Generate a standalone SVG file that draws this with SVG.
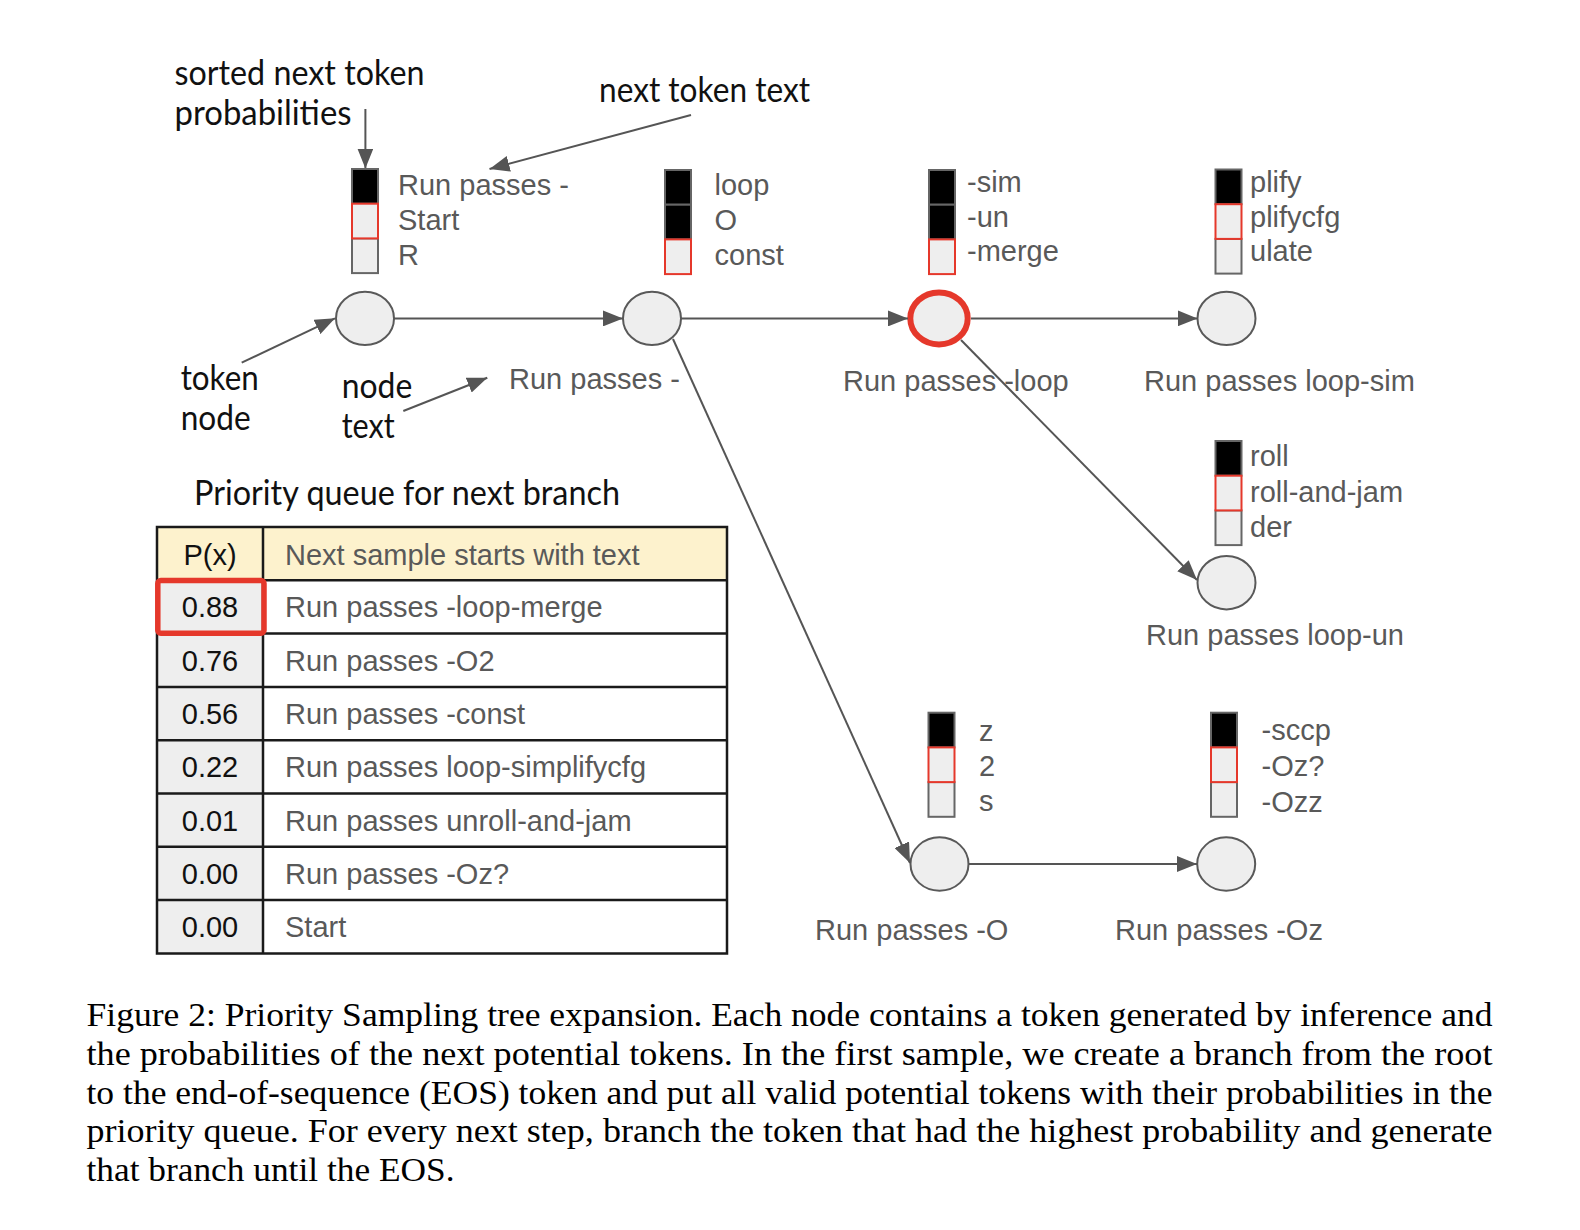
<svg xmlns="http://www.w3.org/2000/svg" width="1580" height="1230" viewBox="0 0 1580 1230">
<defs>
<marker id="ah" viewBox="0 0 20 16" refX="20" refY="8" markerWidth="20" markerHeight="16" markerUnits="userSpaceOnUse" orient="auto">
<path d="M0,0 L20,8 L0,16 z" fill="#555"/>
</marker>
<style>
.node{fill:#eeeeee;stroke:#595959;stroke-width:2}
.sel{fill:#eeeeee;stroke:#e5382b;stroke-width:6}
.blk{fill:#000;stroke:#666;stroke-width:2}
.lt{fill:#eeeeee;stroke:#666;stroke-width:2}
.rd{fill:#eeeeee;stroke:#e5382b;stroke-width:2}
.g{font-family:"Liberation Sans",Arial,sans-serif;font-size:29px;fill:#595959}
.k{font-family:"Liberation Sans",Arial,sans-serif;font-size:29px;fill:#111}
.cal{font-family:Lato,"Open Sans",sans-serif;font-size:35px;fill:#111}
.cap{font-family:"Liberation Serif","Times New Roman",serif;font-size:34px;fill:#000}
.conn{stroke:#555;stroke-width:2;fill:none;marker-end:url(#ah)}
.grid{stroke:#1a1a1a;stroke-width:2.5;fill:none}
</style>
</defs>
<rect width="1580" height="1230" fill="#fff"/>

<!-- annotations -->
<g id="annotations">
<text class="cal" x="174.5" y="84.5" textLength="250" lengthAdjust="spacingAndGlyphs">sorted next token</text>
<text class="cal" x="174.5" y="124.5" textLength="177" lengthAdjust="spacingAndGlyphs">probabilities</text>
<text class="cal" x="599" y="101.5" textLength="211" lengthAdjust="spacingAndGlyphs">next token text</text>
<text class="cal" x="180.7" y="390" textLength="78" lengthAdjust="spacingAndGlyphs">token</text>
<text class="cal" x="180.7" y="430" textLength="70" lengthAdjust="spacingAndGlyphs">node</text>
<text class="cal" x="341.7" y="397.5" textLength="70.6" lengthAdjust="spacingAndGlyphs">node</text>
<text class="cal" x="341.7" y="438" textLength="53" lengthAdjust="spacingAndGlyphs">text</text>
<path class="conn" d="M365.4,109 L365.4,168.5"/>
<path class="conn" d="M691,115 L489.5,169"/>
<path class="conn" d="M241.7,362.7 L335,318.3"/>
<path class="conn" d="M403.3,411 L487.3,377.7"/>
</g>

<!-- nodes -->
<g id="node1">
<rect class="blk" x="352" y="169" width="26" height="34.7"/>
<rect class="lt" x="352" y="238.4" width="26" height="34.7"/>
<rect class="rd" x="352" y="203.7" width="26" height="34.7"/>
<text class="g" x="398" y="195">Run passes -</text>
<text class="g" x="398" y="230">Start</text>
<text class="g" x="398" y="265">R</text>
<ellipse class="node" cx="365" cy="318.4" rx="29" ry="26.7"/>
</g>

<g id="node2">
<rect class="blk" x="665" y="170" width="26" height="34.7"/>
<rect class="blk" x="665" y="204.7" width="26" height="34.7"/>
<rect class="rd" x="665" y="239.4" width="26" height="34.7"/>
<text class="g" x="714.5" y="195">loop</text>
<text class="g" x="714.5" y="230">O</text>
<text class="g" x="714.5" y="265">const</text>
<ellipse class="node" cx="652" cy="318.4" rx="29" ry="26.7"/>
<text class="g" x="509" y="389">Run passes -</text>
</g>

<g id="node3">
<rect class="blk" x="929" y="170" width="26" height="34.7"/>
<rect class="blk" x="929" y="204.7" width="26" height="34.7"/>
<rect class="rd" x="929" y="239.4" width="26" height="34.7"/>
<text class="g" x="967" y="192">-sim</text>
<text class="g" x="967" y="227">-un</text>
<text class="g" x="967" y="261">-merge</text>
<ellipse class="sel" cx="939" cy="318.4" rx="28.7" ry="26"/>
<text class="g" x="843" y="391">Run passes -loop</text>
</g>

<g id="node4">
<rect class="blk" x="1215.5" y="169.5" width="26" height="34.7"/>
<rect class="lt" x="1215.5" y="238.9" width="26" height="34.7"/>
<rect class="rd" x="1215.5" y="204.2" width="26" height="34.7"/>
<text class="g" x="1250" y="192">plify</text>
<text class="g" x="1250" y="227">plifycfg</text>
<text class="g" x="1250" y="261">ulate</text>
<ellipse class="node" cx="1226.5" cy="318.4" rx="29" ry="26.7"/>
<text class="g" x="1144" y="391">Run passes loop-sim</text>
</g>

<g id="node5">
<rect class="blk" x="1215.5" y="441" width="26" height="34.7"/>
<rect class="lt" x="1215.5" y="510.4" width="26" height="34.7"/>
<rect class="rd" x="1215.5" y="475.7" width="26" height="34.7"/>
<text class="g" x="1250" y="466">roll</text>
<text class="g" x="1250" y="501.5">roll-and-jam</text>
<text class="g" x="1250" y="536.5">der</text>
<ellipse class="node" cx="1226.5" cy="582.7" rx="29" ry="26.7"/>
<text class="g" x="1146" y="645">Run passes loop-un</text>
</g>

<g id="node6">
<rect class="blk" x="928.5" y="712.7" width="26" height="34.7"/>
<rect class="lt" x="928.5" y="782.1" width="26" height="34.7"/>
<rect class="rd" x="928.5" y="747.4" width="26" height="34.7"/>
<text class="g" x="979" y="741">z</text>
<text class="g" x="979" y="776">2</text>
<text class="g" x="979" y="811">s</text>
<ellipse class="node" cx="939.5" cy="864" rx="29" ry="26.7"/>
<text class="g" x="815" y="940">Run passes -O</text>
</g>

<g id="node7">
<rect class="blk" x="1211" y="712.7" width="26" height="34.7"/>
<rect class="lt" x="1211" y="782.1" width="26" height="34.7"/>
<rect class="rd" x="1211" y="747.4" width="26" height="34.7"/>
<text class="g" x="1261.5" y="740">-sccp</text>
<text class="g" x="1261.5" y="776">-Oz?</text>
<text class="g" x="1261.5" y="811.5">-Ozz</text>
<ellipse class="node" cx="1226.2" cy="864" rx="29" ry="26.7"/>
<text class="g" x="1115" y="940">Run passes -Oz</text>
</g>

<!-- connectors -->
<g id="connectors">
<path class="conn" d="M394,318.4 L623,318.4"/>
<path class="conn" d="M681,318.4 L908,318.4"/>
<path class="conn" d="M971,318.4 L1197.5,318.4"/>
<path class="conn" d="M961,340 L1197,580"/>
<path class="conn" d="M673,339 L910,863"/>
<path class="conn" d="M969,864 L1197,864"/>
</g>

<!-- priority queue table -->
<g id="priority-queue">
<text class="cal" x="194" y="505" textLength="426" lengthAdjust="spacingAndGlyphs">Priority queue for next branch</text>
<rect x="157" y="527" width="570" height="53.3" fill="#fdf2cd"/>
<rect x="157" y="580.3" width="106" height="373.1" fill="#eeeeee"/>
<rect x="263" y="580.3" width="464" height="373.1" fill="#ffffff"/>
<path class="grid" d="M157,527 H727 V953.4 H157 Z M263,527 V953.4 M157,580.3 H727 M157,633.6 H727 M157,686.9 H727 M157,740.2 H727 M157,793.5 H727 M157,846.8 H727 M157,900.1 H727"/>
<g text-anchor="middle">
<text class="k" x="210" y="565">P(x)</text>
<text class="k" x="210" y="617.3">0.88</text>
<text class="k" x="210" y="670.6">0.76</text>
<text class="k" x="210" y="723.9">0.56</text>
<text class="k" x="210" y="777.2">0.22</text>
<text class="k" x="210" y="830.5">0.01</text>
<text class="k" x="210" y="883.8">0.00</text>
<text class="k" x="210" y="937.1">0.00</text>
</g>
<text class="g" x="285" y="565">Next sample starts with text</text>
<text class="g" x="285" y="617.3">Run passes -loop-merge</text>
<text class="g" x="285" y="670.6">Run passes -O2</text>
<text class="g" x="285" y="723.9">Run passes -const</text>
<text class="g" x="285" y="777.2">Run passes loop-simplifycfg</text>
<text class="g" x="285" y="830.5">Run passes unroll-and-jam</text>
<text class="g" x="285" y="883.8">Run passes -Oz?</text>
<text class="g" x="285" y="937.1">Start</text>
<rect x="157.8" y="580.5" width="106.2" height="52.7" rx="3" fill="none" stroke="#e5382b" stroke-width="5.5"/>
</g>

<!-- caption -->
<g id="caption">
<text class="cap" x="86.5" y="1026" textLength="1406" lengthAdjust="spacingAndGlyphs">Figure 2: Priority Sampling tree expansion. Each node contains a token generated by inference and</text>
<text class="cap" x="86.5" y="1065" textLength="1406" lengthAdjust="spacingAndGlyphs">the probabilities of the next potential tokens.  In the first sample, we create a branch from the root</text>
<text class="cap" x="86.5" y="1103.5" textLength="1406" lengthAdjust="spacingAndGlyphs">to the end-of-sequence (EOS) token and put all valid potential tokens with their probabilities in the</text>
<text class="cap" x="86.5" y="1142" textLength="1406" lengthAdjust="spacingAndGlyphs">priority queue. For every next step, branch the token that had the highest probability and generate</text>
<text class="cap" x="86.5" y="1180.5" textLength="368" lengthAdjust="spacingAndGlyphs">that branch until the EOS.</text>
</g>
</svg>
